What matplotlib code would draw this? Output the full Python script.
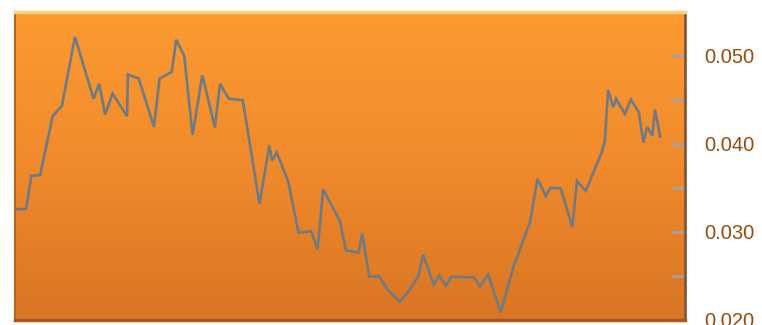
import numpy as np
import matplotlib
matplotlib.use("Agg")
import matplotlib.pyplot as plt
from matplotlib.colors import LinearSegmentedColormap

# day index and value
days = [0, 2.0, 3.1, 5.0, 7.7, 9.7, 12.5, 16.5, 17.7, 19.0, 20.6, 23.7, 23.9,
        26.2, 29.5, 30.7, 33.3, 34.3, 36.0, 37.8, 39.9, 42.6, 43.7, 45.6, 48.6,
        52.2, 54.3, 54.9, 55.9, 58.4, 60.6, 63.3, 64.7, 65.9, 69.5, 70.8, 73.5,
        74.3, 75.8, 78.0, 79.7, 82.4, 84.2, 86.4, 87.4, 89.7, 90.8, 92.3, 93.5,
        98.4, 99.6, 101.4, 104.1, 106.8, 110.4, 112.0, 113.8, 114.8, 117.0,
        119.5, 120.5, 122.4, 125.8, 126.5, 127.2, 128.3, 128.9, 130.8, 132.1,
        133.8, 134.8, 135.6, 136.7, 137.3, 138.4]
values = [0.03258, 0.03262, 0.03639, 0.03647, 0.04314, 0.04436, 0.05217,
          0.04513, 0.04684, 0.04333, 0.04573, 0.04314, 0.04787, 0.04745,
          0.04193, 0.04742, 0.04817, 0.05183, 0.05000, 0.04105, 0.04779,
          0.04188, 0.04684, 0.04513, 0.04497, 0.03319, 0.03982, 0.03811,
          0.03902, 0.03570, 0.02992, 0.03010, 0.02801, 0.03483, 0.03124,
          0.02789, 0.02766, 0.02980, 0.02495, 0.02492, 0.02347, 0.02209,
          0.02320, 0.02503, 0.02743, 0.02400, 0.02507, 0.02389, 0.02492,
          0.02484, 0.02381, 0.02515, 0.02086, 0.02598, 0.03113, 0.03605,
          0.03407, 0.03502, 0.03495, 0.03056, 0.03578, 0.03467, 0.03902,
          0.04039, 0.04611, 0.04417, 0.04513, 0.04341, 0.04505, 0.04360,
          0.04016, 0.04193, 0.04093, 0.04390, 0.04085]
major_ticks = [0.020, 0.030, 0.040, 0.050]
minor_ticks = [0.025, 0.035, 0.045, 0.055]

fig = plt.figure(figsize=(7.62, 3.25), dpi=100)
ax = fig.add_axes([0.0197, 0.0154, 0.879, 0.948])

# orange gradient plot area
grad = LinearSegmentedColormap.from_list("bg", ["#d97524", "#f08a2c", "#fd9b31"])
ax.imshow(np.linspace(0, 1, 256).reshape(-1, 1), cmap=grad, aspect="auto",
          extent=[0, 1, 0, 1], origin="lower", transform=ax.transAxes, zorder=0)

ax.plot(days, values, color="#6f7a82", lw=1.9, zorder=3, solid_joinstyle="miter")

ax.set_xlim(-0.4, 143.7)
ax.set_ylim(0.020, 0.055)
ax.set_xticks([])
ax.yaxis.tick_right()
ax.set_yticks(major_ticks)
ax.set_yticklabels([f"{v:.3f}" for v in major_ticks])
ax.set_yticks(minor_ticks, minor=True)
ax.tick_params(axis="y", which="both", direction="in", length=10, width=2,
               color="#a2a2a2", pad=14)
ax.tick_params(axis="y", which="major", labelsize=14.5, labelcolor="#9a4a0c")
for lab in ax.get_yticklabels():
    lab.set_fontfamily("Liberation Sans")

# bevel-like edges
for side, col, w in [("top", "#ffd27a", 2.5), ("bottom", "#a85a1e", 2.5),
                     ("left", "#b8661f", 1.5), ("right", "#7d5a3c", 2.0)]:
    ax.spines[side].set_color(col)
    ax.spines[side].set_linewidth(w)

fig.savefig("out.png", dpi=100)
